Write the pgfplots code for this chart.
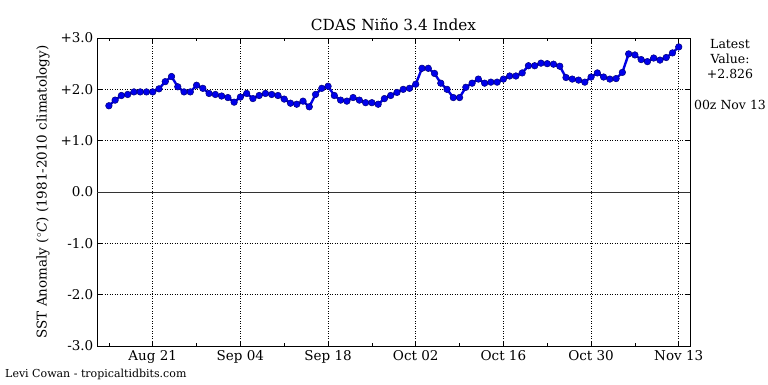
\documentclass[border=0pt]{standalone}
\usepackage{fontspec}
\setmainfont{DejaVu Serif}
\usepackage{pgfplots}
\pgfplotsset{compat=1.18}
\pgfplotstableread{
d v
0 1.68
1 1.79
2 1.88
3 1.90
4 1.95
5 1.95
6 1.95
7 1.95
8 2.01
9 2.15
10 2.25
11 2.05
12 1.95
13 1.95
14 2.08
15 2.02
16 1.92
17 1.90
18 1.87
19 1.84
20 1.75
21 1.85
22 1.92
23 1.82
24 1.88
25 1.92
26 1.90
27 1.88
28 1.81
29 1.73
30 1.71
31 1.77
32 1.66
33 1.90
34 2.02
35 2.06
36 1.88
37 1.79
38 1.77
39 1.84
40 1.79
41 1.74
42 1.74
43 1.71
44 1.82
45 1.88
46 1.94
47 2.00
48 2.02
49 2.10
50 2.41
51 2.41
52 2.31
53 2.12
54 2.00
55 1.84
56 1.84
57 2.04
58 2.12
59 2.20
60 2.12
61 2.14
62 2.14
63 2.20
64 2.26
65 2.26
66 2.32
67 2.46
68 2.46
69 2.51
70 2.50
71 2.49
72 2.45
73 2.23
74 2.20
75 2.18
76 2.14
77 2.24
78 2.32
79 2.24
80 2.20
81 2.21
82 2.33
83 2.69
84 2.67
85 2.58
86 2.54
87 2.61
88 2.57
89 2.62
90 2.71
91 2.826
}\datatable
\begin{document}
\fontsize{13.5}{16}\selectfont
\begin{tikzpicture}[x=1pt,y=1pt]
\useasboundingbox (-97,-38) rectangle (671,346);
\begin{axis}[
  at={(0pt,0pt)}, anchor=south west,
  scale only axis, width=593pt, height=308pt,
  xmin=-1.9, xmax=92.8, ymin=-3, ymax=3,
  xtick={7,21,35,49,63,77,91},
  xticklabels={Aug 21,Sep 04,Sep 18,Oct 02,Oct 16,Oct 30,Nov 13},
  minor xtick={0,14,28,42,56,70,84},
  ytick={-3,-2,-1,0,1,2,3},
  yticklabels={-3.0,-2.0,-1.0,0.0,+1.0,+2.0,+3.0},
  tick align=inside,
  major tick length=5pt, minor tick length=3pt,
  tick style={black, line width=0.6pt},
  grid=major,
  major grid style={black, line width=0.5pt, dotted},
  axis line style={black, line width=0.8pt},
  ticklabel style={font=\fontsize{13.5}{16}\selectfont},
  yticklabel style={xshift=1pt},
  /pgf/number format/assume math mode=true,
  clip=false,
]
\addplot[black!80, line width=0.8pt, forget plot] coordinates {(-1.9,0) (92.8,0)};
\addplot[color={rgb,255:red,0;green,0;blue,230}, line width=2.4pt,
  mark=*, mark size=3.3pt,
  mark options={fill={rgb,255:red,0;green,0;blue,235}, draw={rgb,255:red,0;green,0;blue,120}, line width=0.5pt}]
  table[x=d, y=v] {\datatable};
\end{axis}
\node at (296.5,321) {\fontsize{15.3}{18}\selectfont CDAS Niño 3.4 Index};
\node[rotate=90] at (-54,154) {\fontsize{13.5}{16}\selectfont SST Anomaly (${}^\circ$\textit{C}) (1981-2010 climatology)};
\node[align=center, font=\fontsize{12.5}{15}\selectfont] at (633,287) {Latest\\Value:\\+2.826};
\node[font=\fontsize{12.5}{15}\selectfont] at (633,241) {00z Nov 13};
\node[anchor=west, inner sep=0pt, font=\fontsize{11}{13}\selectfont] at (-92,-28) {Levi Cowan - tropicaltidbits.com};
\end{tikzpicture}
\end{document}
